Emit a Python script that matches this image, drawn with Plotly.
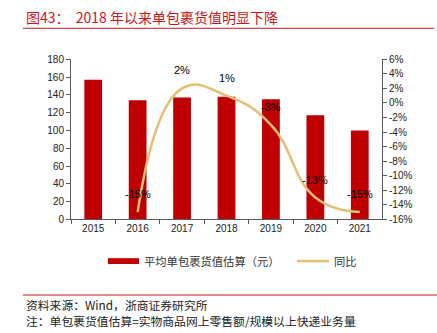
import plotly.graph_objects as go

# Data
years = ["2015", "2016", "2017", "2018", "2019", "2020", "2021"]
parcel_value = [157, 134, 137, 138, 135, 117, 100]          # 平均单包裹货值估算（元）
yoy_pct = [None, -15, 2, 1, -3, -13, -15]                   # 同比 (%)
left_ticks = [0, 20, 40, 60, 80, 100, 120, 140, 160, 180]
right_ticks = [-16, -14, -12, -10, -8, -6, -4, -2, 0, 2, 4, 6]
right_tick_text = [f"{v}%" for v in right_ticks]

W, H = 437, 333
BAR_RED = "#C00000"
LINE_GOLD = "#E3BE73"
TITLE_RED = "#C8161D"
AXIS_GREY = "#595959"
CJK = "Noto Sans CJK SC"
NUM = "Liberation Sans"

def px(x):
    return x / W

def py(y):
    return 1 - y / H

fig = go.Figure()

fig.add_trace(go.Bar(
    x=years, y=parcel_value, name="平均单包裹货值估算（元）",
    marker=dict(color=BAR_RED, line=dict(width=0)),
    width=0.4, yaxis="y", showlegend=False,
))

fig.add_trace(go.Scatter(
    x=years, y=yoy_pct, name="同比", mode="lines",
    line=dict(color=LINE_GOLD, width=2.5, shape="spline", smoothing=1.3),
    yaxis="y2", connectgaps=False, showlegend=False,
))

annotations = []
# data labels above each point of the yoy line (category index positions)
for i, v in enumerate(yoy_pct):
    if v is None:
        continue
    annotations.append(dict(
        x=i, y=v, xref="x", yref="y2", text=f"{v}%", showarrow=False,
        yshift=18, font=dict(family=NUM, size=11, color="#000000"),
    ))

# title
annotations.append(dict(
    x=px(24), y=py(12), xref="paper", yref="paper", xanchor="left", yanchor="middle",
    text="图43：  2018 年以来单包裹货值明显下降", showarrow=False,
    font=dict(family=CJK, size=14, color=TITLE_RED),
))

# legend text
annotations.append(dict(
    x=px(142), y=py(264), xref="paper", yref="paper", xanchor="left", yanchor="middle",
    text="平均单包裹货值估算（元）", showarrow=False,
    font=dict(family=CJK, size=11.3, color="#333333"),
))
annotations.append(dict(
    x=px(332), y=py(264), xref="paper", yref="paper", xanchor="left", yanchor="middle",
    text="同比", showarrow=False,
    font=dict(family=CJK, size=11.3, color="#333333"),
))

# source and note
annotations.append(dict(
    x=px(24), y=py(308.3), xref="paper", yref="paper", xanchor="left", yanchor="middle",
    text="资料来源：Wind，浙商证券研究所", showarrow=False,
    font=dict(family=CJK, size=11.8, color="#222222"),
))
annotations.append(dict(
    x=px(24), y=py(325.6), xref="paper", yref="paper", xanchor="left", yanchor="middle",
    text="注：单包裹货值估算=实物商品网上零售额/规模以上快递业务量", showarrow=False,
    font=dict(family=CJK, size=11.8, color="#222222"),
))

shapes = [
    # rule under the title
    dict(type="line", xref="paper", yref="paper", x0=px(23), x1=px(434), y0=py(24), y1=py(24),
         line=dict(color=TITLE_RED, width=1)),
    # rule above the source
    dict(type="line", xref="paper", yref="paper", x0=px(23), x1=px(437), y0=py(299), y1=py(299),
         line=dict(color=TITLE_RED, width=1)),
    # legend swatches
    dict(type="rect", xref="paper", yref="paper", x0=px(108), x1=px(139), y0=py(267), y1=py(261),
         fillcolor=BAR_RED, line=dict(width=0)),
    dict(type="line", xref="paper", yref="paper", x0=px(297), x1=px(329), y0=py(264), y1=py(264),
         line=dict(color=LINE_GOLD, width=2.5)),
]

axis_common = dict(
    showgrid=False, zeroline=False, showline=True, linecolor=AXIS_GREY, linewidth=1,
    ticks="outside", ticklen=4, tickcolor=AXIS_GREY, tickwidth=1,
    tickfont=dict(family=NUM, size=10, color="#222222"),
)

fig.update_layout(
    width=W, height=H,
    margin=dict(l=0, r=0, t=0, b=0),
    paper_bgcolor="white", plot_bgcolor="white",
    xaxis=dict(
        domain=[px(71), px(382)], type="category", tickson="boundaries",
        range=[-0.5, len(years) - 0.5], anchor="y", **axis_common,
    ),
    yaxis=dict(
        domain=[py(221), py(56)], range=[0, 180], tickvals=left_ticks,
        anchor="x", side="left", **axis_common,
    ),
    yaxis2=dict(
        domain=[py(221), py(56)], range=[-16, 6], tickvals=right_ticks,
        ticktext=right_tick_text, overlaying="y", side="right", anchor="x",
        **axis_common,
    ),
    annotations=annotations,
    shapes=shapes,
    showlegend=False,
)

fig.write_html("out.html")
